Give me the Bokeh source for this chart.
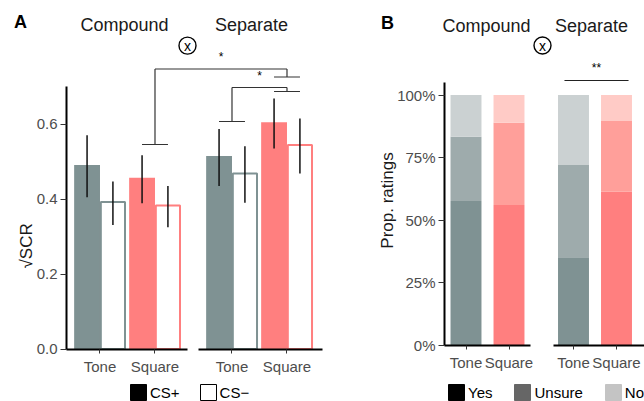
import math
from bokeh.plotting import figure
from bokeh.layouts import row
from bokeh.models import (Range1d, FixedTicker, Legend, LegendItem, LinearAxis,
                          PrintfTickFormatter, NumeralTickFormatter)
from bokeh.embed import file_html
from bokeh.resources import INLINE
from bokeh.core.properties import value

FONT = "Liberation Sans"
TICK_COLOR = "#4d4d4d"
DARK = "#1a1a1a"

# ---------------- data: panel A ----------------
a_facets = ["Compound", "Compound", "Separate", "Separate"]
a_stimuli = ["Tone", "Square", "Tone", "Square"]
a_csplus = [0.491, 0.457, 0.515, 0.605]
a_csplus_lo = [0.405, 0.389, 0.435, 0.535]
a_csplus_hi = [0.570, 0.517, 0.587, 0.668]
a_csminus = [0.392, 0.383, 0.468, 0.544]
a_csminus_lo = [0.331, 0.325, 0.390, 0.468]
a_csminus_hi = [0.447, 0.435, 0.541, 0.615]
a_yticks = [0.0, 0.2, 0.4, 0.6]

# ---------------- data: panel B ----------------
b_facets = ["Compound", "Compound", "Separate", "Separate"]
b_stimuli = ["Tone", "Square", "Tone", "Square"]
b_yes = [0.576, 0.560, 0.351, 0.613]
b_unsure = [0.257, 0.329, 0.369, 0.283]
b_no = [0.167, 0.111, 0.280, 0.104]
b_yticks = [0.0, 0.25, 0.5, 0.75, 1.0]

stim_colors = {
    "Tone": ["#7f9293", "#9eabac", "#cbd1d2"],
    "Square": ["#ff7f7f", "#ff9f9a", "#ffcbc6"],
}


def base_fig(width, xr, yr):
    p = figure(width=width, height=401, x_range=xr, y_range=yr,
               output_backend="svg", toolbar_location=None, title=None,
               x_axis_location=None, y_axis_location=None, min_border=0)
    p.outline_line_color = None
    p.xgrid.visible = False
    p.ygrid.visible = False
    p.background_fill_color = "white"
    p.border_fill_color = "white"
    return p


def style_axis(ax, tick_out, standoff):
    ax.major_label_text_font = FONT
    ax.major_label_text_font_size = "15px"
    ax.major_label_text_color = TICK_COLOR
    ax.major_tick_line_color = "#333333"
    ax.major_tick_in = 0
    ax.major_tick_out = tick_out
    ax.major_label_standoff = standoff
    ax.minor_tick_line_color = None
    ax.axis_line_color = "black"
    ax.axis_line_width = 2


def add_x_axes(p, pos, labels, spans):
    for lo, hi in spans:
        ticks = [x for x in pos if lo <= x <= hi]
        ax = LinearAxis(fixed_location=0, bounds=(lo, hi),
                        ticker=FixedTicker(ticks=ticks, minor_ticks=[]))
        ax.major_label_overrides = {x: s for x, s in zip(pos, labels) if lo <= x <= hi}
        style_axis(ax, 4, 5)
        p.add_layout(ax, "below")


def legend_key(p, color, outline):
    # off-screen rect, only used to draw a legend swatch
    return p.rect(x=[-50], y=[-50], width=1, height=1, fill_color=color,
                  line_color=outline, line_width=1)


def make_legend(items, loc, spacing):
    return Legend(items=items, orientation="horizontal", location=loc,
                  border_line_color=None, background_fill_alpha=0,
                  glyph_width=20, glyph_height=20, label_height=16,
                  label_standoff=2, spacing=spacing, padding=0, margin=0,
                  label_text_font=FONT, label_text_font_size="15px",
                  label_text_color="black")


# ================= Panel A =================
A_PX = 375.0          # pixels per unit on y
A_UNIT = 55.0         # pixels per unit on x
A_X0 = 0.391          # data x at the y axis
a_xr = Range1d(A_X0 - 66 / A_UNIT, A_X0 - 66 / A_UNIT + 330 / A_UNIT)
a_yr = Range1d((348.5 - 401) / A_PX, 348.5 / A_PX)
pA = base_fig(330, a_xr, a_yr)

facet_shift_a = {"Compound": 0.0, "Separate": 2.4}
a_pos = [1 + (i % 2) + facet_shift_a[f] for i, f in enumerate(a_facets)]
half = 0.235
bw = 0.47
a_cols = [stim_colors[s][0] for s in a_stimuli]

pA.vbar(x=[x - half for x in a_pos], top=a_csplus, bottom=0, width=bw,
        fill_color=a_cols, line_color=None)
pA.vbar(x=[x + half for x in a_pos], top=a_csminus, bottom=0, width=bw - 0.03,
        fill_color="white", line_color=a_cols, line_width=2)
pA.segment(x0=[x - half for x in a_pos], x1=[x - half for x in a_pos],
           y0=a_csplus_lo, y1=a_csplus_hi, line_color="#111111", line_width=1.5)
pA.segment(x0=[x + half for x in a_pos], x1=[x + half for x in a_pos],
           y0=a_csminus_lo, y1=a_csminus_hi, line_color="#111111", line_width=1.5)

add_x_axes(pA, a_pos, a_stimuli, [(A_X0, 2.591), (2.791, 5.045)])
ya = LinearAxis(fixed_location=A_X0, bounds=(0, 0.701),
                ticker=FixedTicker(ticks=a_yticks, minor_ticks=[]),
                formatter=PrintfTickFormatter(format="%.1f"))
style_axis(ya, 6, 3)
pA.add_layout(ya, "left")

# significance brackets: (left x, left end, right x, right end, top, label)
brackets_a = [(a_pos[1], 0.5453, a_pos[3], 0.7253, 0.7467, "*"),
              (a_pos[2], 0.6067, a_pos[3], 0.6867, 0.6973, "*")]
for lx, lb, rx, rb, top, lab in brackets_a:
    pA.segment(x0=[lx, lx, rx, lx - 0.236, rx - 0.236],
               x1=[rx, lx, rx, lx + 0.236, rx + 0.236],
               y0=[top, top, top, lb, rb], y1=[top, lb, rb, lb, rb],
               line_color="#333333", line_width=1.2)
    pA.text(x=[(lx + rx) / 2], y=[top + 0.032], text=[lab], text_align="center",
            text_baseline="middle", text_font=value(FONT), text_font_size="12px",
            text_color="black")

# facet titles, panel letter, y label and interaction symbol
pA.text(x=[1.445, 3.755], y=[0.863, 0.863], text=["Compound", "Separate"],
        text_align="center", text_baseline="middle", text_font=value(FONT),
        text_font_size="18px", text_color=DARK)
pA.text(x=[-0.445], y=[0.871], text=["A"], text_align="center", text_baseline="middle",
        text_font=value(FONT), text_font_size="18px", text_font_style="bold",
        text_color="black")
pA.text(x=[-0.345], y=[0.275], text=["√SCR"], angle=math.pi / 2, text_align="center",
        text_baseline="middle", text_font=value(FONT), text_font_size="17px",
        text_color=DARK)
pA.scatter(x=[2.591], y=[0.809], size=17, marker="circle", fill_color=None,
           line_color="black", line_width=1.4)
pA.text(x=[2.591], y=[0.809], text=["x"], text_align="center", text_baseline="middle",
        text_font=value(FONT), text_font_size="14px", text_color="black")

ra1 = legend_key(pA, "black", "black")
ra2 = legend_key(pA, "white", "black")
pA.add_layout(make_legend([LegendItem(label="CS+", renderers=[ra1]),
                           LegendItem(label="CS\u2212", renderers=[ra2])], (128, -1), 18))

# ================= Panel B =================
B_PX = 250.0
B_UNIT = 43.0
B_X0 = 0.5
b_xr = Range1d(B_X0 - 114 / B_UNIT, B_X0 - 114 / B_UNIT + 314 / B_UNIT)
b_yr = Range1d((344.5 - 401) / B_PX, 344.5 / B_PX)
pB = base_fig(314, b_xr, b_yr)

facet_shift_b = {"Compound": 0.0, "Separate": 2.5}
b_pos = [1 + (i % 2) + facet_shift_b[f] for i, f in enumerate(b_facets)]
b_w = 0.72
bot = [0.0] * 4
for k, vals in enumerate([b_yes, b_unsure, b_no]):
    tops = [b + v for b, v in zip(bot, vals)]
    pB.vbar(x=b_pos, bottom=bot, top=tops, width=b_w,
            fill_color=[stim_colors[s][k] for s in b_stimuli], line_color=None)
    bot = tops

add_x_axes(pB, b_pos, b_stimuli, [(B_X0, 2.5), (3.035, b_xr.end)])
yb = LinearAxis(fixed_location=B_X0, bounds=(0, 1.052),
                ticker=FixedTicker(ticks=b_yticks, minor_ticks=[]),
                formatter=NumeralTickFormatter(format="0%"))
style_axis(yb, 6, 3)
pB.add_layout(yb, "left")

pB.segment(x0=[3.29], x1=[4.78], y0=[1.058], y1=[1.058], line_color="#222222", line_width=1.2)
pB.text(x=[4.035], y=[1.11], text=["**"], text_align="center", text_baseline="middle",
        text_font=value(FONT), text_font_size="12px", text_color="black")

pB.text(x=[1.477, 3.919], y=[1.278, 1.278], text=["Compound", "Separate"],
        text_align="center", text_baseline="middle", text_font=value(FONT),
        text_font_size="18px", text_color=DARK)
pB.text(x=[-0.826], y=[1.29], text=["B"], text_align="center", text_baseline="middle",
        text_font=value(FONT), text_font_size="18px", text_font_style="bold",
        text_color="black")
pB.text(x=[-0.826], y=[0.578], text=["Prop. ratings"], angle=math.pi / 2,
        text_align="center", text_baseline="middle", text_font=value(FONT),
        text_font_size="17px", text_color=DARK)
pB.scatter(x=[2.779], y=[1.198], size=17, marker="circle", fill_color=None,
           line_color="black", line_width=1.4)
pB.text(x=[2.779], y=[1.198], text=["x"], text_align="center", text_baseline="middle",
        text_font=value(FONT), text_font_size="14px", text_color="black")

rb1 = legend_key(pB, "black", "black")
rb2 = legend_key(pB, "#666666", "#666666")
rb3 = legend_key(pB, "#c4c4c4", "#c4c4c4")
pB.add_layout(make_legend([LegendItem(label="Yes", renderers=[rb1]),
                           LegendItem(label="Unsure", renderers=[rb2]),
                           LegendItem(label="No", renderers=[rb3])], (116, -1), 20))

layout = row(pA, pB)
open("out.html", "w").write(file_html(layout, INLINE))
